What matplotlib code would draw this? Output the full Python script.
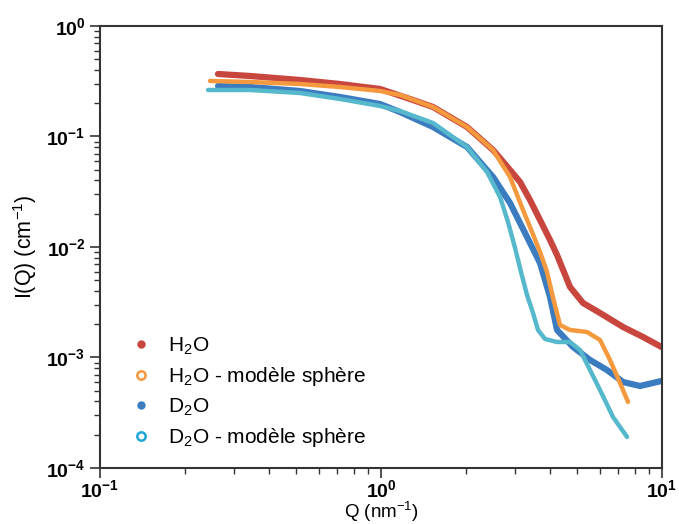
import math
import matplotlib
matplotlib.use('Agg')
import matplotlib.pyplot as plt
from matplotlib.lines import Line2D
from matplotlib.ticker import FuncFormatter, LogLocator

plt.rcParams['font.family'] = ['Liberation Sans', 'DejaVu Sans']
plt.rcParams['mathtext.fontset'] = 'custom'
plt.rcParams['mathtext.rm'] = 'Liberation Sans'
plt.rcParams['mathtext.bf'] = 'Liberation Sans:bold'

# H2O - donnees
q_h2o = [0.263, 0.342, 0.515, 0.714, 0.992, 1.268, 1.531, 2.023, 2.504, 2.878,
         3.124, 3.39, 3.68, 3.994, 4.23, 4.705, 5.234, 6.017, 7.265, 8.559, 9.95]
i_h2o = [0.3678, 0.3528, 0.3245, 0.2986, 0.2691, 0.2185, 0.1849, 0.1219, 0.0755, 0.04975,
         0.03876, 0.02662, 0.01755, 0.01157, 0.00847, 0.004345, 0.003113, 0.002527, 0.001888,
         0.001533, 0.001245]

# H2O - modele sphere
q_h2o_mod = [0.2463, 0.342, 0.515, 0.714, 0.992, 1.168, 1.531, 2.023, 2.504, 2.878, 3.201,
             3.447, 3.68, 3.897, 4.095, 4.335, 4.705, 5.408, 6.017, 6.53, 7.088, 7.568]
i_h2o_mod = [0.318, 0.3113, 0.2986, 0.2805, 0.2581, 0.2374, 0.1849, 0.1219, 0.0755, 0.0430, 0.02162,
             0.01367, 0.00901, 0.00594, 0.003455, 0.001968, 0.001774, 0.001701, 0.00144, 0.000949, 0.000588, 0.000396]

# D2O - donnees
q_d2o = [0.263, 0.342, 0.515, 0.714, 0.992, 1.168, 1.531, 2.023, 2.504, 2.878,
         3.308, 3.68, 3.994, 4.23, 4.824, 5.544, 6.372, 7.265, 8.351, 9.95]
i_d2o = [0.2864, 0.2805, 0.2581, 0.2278, 0.1968, 0.1666, 0.1219, 0.0804, 0.0430, 0.02502,
         0.01232, 0.00716, 0.003527, 0.001774, 0.001245, 0.000949, 0.00077, 0.0006, 0.000552, 0.000613]

# D2O - modele sphere
q_d2o_mod = [0.2423, 0.342, 0.515, 0.714, 0.992, 1.168, 1.531, 2.023, 2.384, 2.652, 2.831,
             2.999, 3.149, 3.308, 3.475, 3.62, 3.834, 4.23, 4.705, 5.107, 5.544, 6.017, 6.693, 7.507]
i_d2o_mod = [0.2635, 0.2635, 0.2474, 0.2185, 0.1888, 0.1701, 0.1325, 0.0804, 0.04772, 0.02835, 0.01683,
             0.0098, 0.00594, 0.003678, 0.002527, 0.001774, 0.00147, 0.001381, 0.001381, 0.001169,
             0.00077, 0.000508, 0.000289, 0.000191]

labels = ['H$_2$O', 'H$_2$O - modèle sphère', 'D$_2$O', 'D$_2$O - modèle sphère']

c_red = '#c8463e'
c_orange = '#f4993d'
c_blue = '#3b7cc0'
c_cyan = '#56b8cc'

fig = plt.figure(figsize=(6.79, 5.24), dpi=100)
ax = fig.add_axes([0.1473, 0.1069, 0.8277, 0.8435])

ax.plot(q_h2o, i_h2o, color=c_red, lw=4.5, solid_capstyle='round', solid_joinstyle='round')
ax.plot(q_d2o, i_d2o, color=c_blue, lw=4.5, solid_capstyle='round', solid_joinstyle='round')
ax.plot(q_h2o_mod, i_h2o_mod, color=c_orange, lw=3.2, solid_capstyle='round', solid_joinstyle='round')
ax.plot(q_d2o_mod, i_d2o_mod, color=c_cyan, lw=3.2, solid_capstyle='round', solid_joinstyle='round')

ax.set_xscale('log')
ax.set_yscale('log')
ax.set_xlim(0.1, 10)
ax.set_ylim(1e-4, 1)

fmt = FuncFormatter(lambda v, p: r'$\mathbf{10^{%d}}$' % round(math.log10(v)))
ax.xaxis.set_major_formatter(fmt)
ax.yaxis.set_major_formatter(fmt)
ax.xaxis.set_minor_locator(LogLocator(base=10, subs=range(2, 10)))
ax.yaxis.set_minor_locator(LogLocator(base=10, subs=range(2, 10)))
ax.tick_params(which='major', direction='out', length=7, width=1.2, labelsize=14,
               colors='#333333', labelcolor='black')
ax.tick_params(which='minor', direction='out', length=4, width=1.0, colors='#333333')
ax.tick_params(axis='x', which='major', pad=1)

for s in ax.spines.values():
    s.set_linewidth(1.5)
    s.set_color('#333333')

ax.set_xlabel('Q (nm$^{-1}$)', fontsize=13.5, labelpad=-1)
ax.set_ylabel('I(Q) (cm$^{-1}$)', fontsize=15.5, labelpad=5)

handles = [
    Line2D([], [], ls='none', marker='o', ms=5, color=c_red),
    Line2D([], [], ls='none', marker='o', ms=6, mfc='white', mec=c_orange, mew=1.8),
    Line2D([], [], ls='none', marker='o', ms=5, color=c_blue),
    Line2D([], [], ls='none', marker='o', ms=6, mfc='white', mec='#1ea7d9', mew=1.8),
]
ax.legend(handles, labels, loc='lower left', bbox_to_anchor=(0.025, 0.0), frameon=False,
          fontsize=15, handlelength=0.8, handletextpad=0.9, labelspacing=0.4)

fig.savefig('out.png', dpi=100)
